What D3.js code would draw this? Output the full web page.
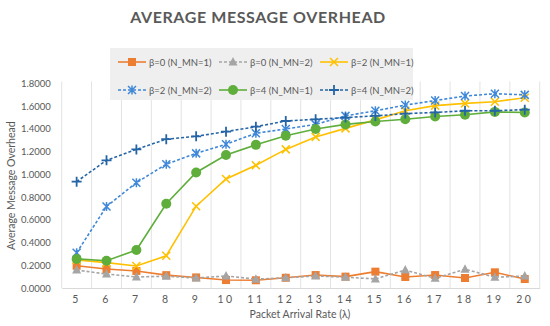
<!DOCTYPE html>
<html>
<head>
<meta charset="utf-8">
<script src="https://cdn.jsdelivr.net/npm/d3@7"></script>
<style>
  body { margin: 0; background: #fff; }
  svg { display: block; font-family: Lato, "Open Sans", sans-serif; }
</style>
</head>
<body>
<svg id="chart" width="550" height="326"></svg>
<script>
// categories (packet arrival rate)
const categories = [5, 6, 7, 8, 9, 10, 11, 12, 13, 14, 15, 16, 17, 18, 19, 20];
const yTicks = [0, 0.2, 0.4, 0.6, 0.8, 1.0, 1.2, 1.4, 1.6, 1.8];

// series values
const b0n1 = [0.196, 0.167, 0.150, 0.113, 0.093, 0.070, 0.068, 0.090, 0.114, 0.100, 0.144, 0.097, 0.114, 0.088, 0.138, 0.079];
const b0n2 = [0.158, 0.123, 0.097, 0.104, 0.088, 0.106, 0.078, 0.090, 0.106, 0.095, 0.080, 0.158, 0.085, 0.165, 0.095, 0.105];
const b2n1 = [0.246, 0.223, 0.194, 0.284, 0.720, 0.960, 1.080, 1.220, 1.330, 1.405, 1.480, 1.560, 1.605, 1.625, 1.640, 1.675];
const b2n2 = [0.310, 0.718, 0.927, 1.090, 1.185, 1.265, 1.362, 1.400, 1.440, 1.515, 1.560, 1.610, 1.650, 1.690, 1.710, 1.700];
const b4n1 = [0.256, 0.240, 0.334, 0.742, 1.017, 1.170, 1.260, 1.340, 1.400, 1.440, 1.465, 1.485, 1.510, 1.525, 1.550, 1.545];
const b4n2 = [0.936, 1.124, 1.220, 1.310, 1.335, 1.376, 1.420, 1.470, 1.485, 1.500, 1.515, 1.535, 1.545, 1.560, 1.560, 1.570];

const seriesNames = ["β=0 (N_MN=1)", "β=0 (N_MN=2)", "β=2 (N_MN=1)", "β=2 (N_MN=2)", "β=4 (N_MN=1)", "β=4 (N_MN=2)"];

const series = [
  { name: seriesNames[0], values: b0n1, color: "#ED7D31", dash: null, marker: "square" },
  { name: seriesNames[1], values: b0n2, color: "#A5A5A5", dash: "3,2", marker: "triangle" },
  { name: seriesNames[2], values: b2n1, color: "#FFC000", dash: null, marker: "x" },
  { name: seriesNames[3], values: b2n2, color: "#3F88D8", dash: "3,2", marker: "star" },
  { name: seriesNames[4], values: b4n1, color: "#5FAE3C", dash: null, marker: "circle" },
  { name: seriesNames[5], values: b4n2, color: "#2565A6", dash: "3,2", marker: "plus" }
];

const svg = d3.select("#chart");
const plotLeft = 61.7, plotRight = 539.7, plotTop = 83.5, plotBottom = 288;

const x = d3.scaleBand().domain(categories).range([plotLeft, plotRight]).padding(0);
const y = d3.scaleLinear().domain([0, 1.8]).range([plotBottom, plotTop]);
const cx = d => x(d) + x.bandwidth() / 2;

// title
svg.append("text")
  .attr("x", 258).attr("y", 23)
  .attr("text-anchor", "middle")
  .attr("font-size", 16).attr("font-weight", "bold")
  .attr("letter-spacing", 0.6)
  .attr("fill", "#595959")
  .text("AVERAGE MESSAGE OVERHEAD");

// vertical gridlines at category boundaries
const edges = categories.map(c => x(c)).concat([plotRight]);
svg.append("g").selectAll("line")
  .data(edges).enter().append("line")
  .attr("x1", d => d).attr("x2", d => d)
  .attr("y1", plotTop - 2).attr("y2", plotBottom)
  .attr("stroke", "#e3e3e3").attr("stroke-width", 1);

// x axis
const xAxis = svg.append("g")
  .attr("transform", "translate(0," + plotBottom + ")")
  .call(d3.axisBottom(x).tickSize(0).tickPadding(8));
xAxis.select(".domain").attr("stroke", "#d9d9d9");
xAxis.selectAll("text")
  .attr("font-size", 10.5).attr("fill", "#595959")
  .attr("letter-spacing", 2.5)
  .attr("font-family", "Lato, sans-serif");

// y axis
const yAxis = svg.append("g")
  .attr("transform", "translate(" + (plotLeft - 11) + ",0)")
  .call(d3.axisLeft(y).tickValues(yTicks).tickSize(0).tickPadding(0).tickFormat(d3.format(".4f")));
yAxis.select(".domain").remove();
yAxis.selectAll("text")
  .attr("font-size", 9.5).attr("fill", "#595959")
  .attr("font-family", "Lato, sans-serif");

// axis titles
svg.append("text")
  .attr("transform", "translate(15," + ((plotTop + plotBottom) / 2) + ") rotate(-90)")
  .attr("text-anchor", "middle")
  .attr("font-size", 10.5).attr("fill", "#595959")
  .text("Average Message Overhead");

svg.append("text")
  .attr("x", 300).attr("y", 318)
  .attr("text-anchor", "middle")
  .attr("font-size", 10.5).attr("fill", "#595959")
  .text("Packet Arrival Rate  (λ)");

function drawMarker(g, type, color, px, py) {
  if (type === "square") {
    g.append("rect").attr("x", px - 4).attr("y", py - 4).attr("width", 8).attr("height", 8).attr("fill", color);
  } else if (type === "triangle") {
    g.append("path").attr("d", `M${px},${py - 5}L${px + 4.5},${py + 3.5}L${px - 4.5},${py + 3.5}Z`).attr("fill", color);
  } else if (type === "circle") {
    g.append("circle").attr("cx", px).attr("cy", py).attr("r", 5).attr("fill", color);
  } else if (type === "x") {
    g.append("path").attr("d", `M${px - 4},${py - 4}L${px + 4},${py + 4}M${px - 4},${py + 4}L${px + 4},${py - 4}`)
      .attr("stroke", color).attr("stroke-width", 1.5);
  } else if (type === "star") {
    g.append("path").attr("d", `M${px - 4},${py - 4}L${px + 4},${py + 4}M${px - 4},${py + 4}L${px + 4},${py - 4}M${px},${py - 4.5}L${px},${py + 4.5}`)
      .attr("stroke", color).attr("stroke-width", 1.5);
  } else if (type === "plus") {
    g.append("path").attr("d", `M${px - 5},${py}L${px + 5},${py}M${px},${py - 5}L${px},${py + 5}`)
      .attr("stroke", color).attr("stroke-width", 1.8);
  }
}

// lines + markers
const line = d3.line().x((d, i) => cx(categories[i])).y(d => y(d));
series.forEach(s => {
  const g = svg.append("g");
  g.append("path")
    .attr("d", line(s.values))
    .attr("fill", "none")
    .attr("stroke", s.color)
    .attr("stroke-width", 1.6)
    .attr("stroke-dasharray", s.dash);
  s.values.forEach((v, i) => drawMarker(g, s.marker, s.color, cx(categories[i]), y(v)));
});

// legend
const leg = svg.append("g");
leg.append("rect")
  .attr("x", 110).attr("y", 48).attr("width", 303).attr("height", 52)
  .attr("fill", "#efefef");
series.forEach((s, i) => {
  const col = i % 3, row = Math.floor(i / 3);
  const lx = 118 + col * 101, ly = 62 + row * 28;
  const g = leg.append("g");
  g.append("line")
    .attr("x1", lx).attr("x2", lx + 28).attr("y1", ly).attr("y2", ly)
    .attr("stroke", s.color).attr("stroke-width", 1.6)
    .attr("stroke-dasharray", s.dash);
  drawMarker(g, s.marker, s.color, lx + 14, ly);
  g.append("text")
    .attr("x", lx + 31).attr("y", ly + 3.5)
    .attr("font-size", 9.5).attr("fill", "#595959")
    .text(s.name);
});
</script>
</body>
</html>
